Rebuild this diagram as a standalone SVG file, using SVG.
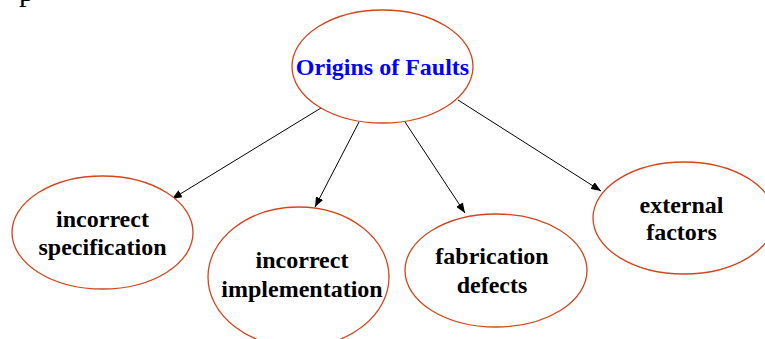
<svg xmlns="http://www.w3.org/2000/svg" width="765" height="339" viewBox="0 0 765 339">
<defs>
<marker id="arr" viewBox="0 0 10 8" refX="10" refY="4" markerWidth="10" markerHeight="8" markerUnits="userSpaceOnUse" orient="auto">
<path d="M0,0 L10,4 L0,8 z" fill="#000"/>
</marker>
<style>
.n{fill:#fff;stroke:#D2461E;stroke-width:1.3}
.t{font-family:"Liberation Serif","Times New Roman",serif;font-weight:bold;font-size:24px;fill:#000;text-anchor:middle}
.c{stroke:#000;stroke-width:1;fill:none;marker-end:url(#arr)}
</style>
</defs>
<rect width="765" height="339" fill="#fff"/>
<text x="19" y="1" style="font-family:'Liberation Serif',serif;font-size:30px;fill:#000">p</text>
<g id="connectors">
<line class="c" x1="321" y1="108" x2="172" y2="199"/>
<line class="c" x1="359" y1="122" x2="315" y2="207"/>
<line class="c" x1="405" y1="122" x2="465" y2="213"/>
<line class="c" x1="458" y1="100" x2="601" y2="191"/>
</g>
<g id="origins">
<ellipse class="n" cx="382.5" cy="66.5" rx="90.5" ry="56.5"/>
<text class="t" x="382.5" y="75" style="fill:#0000FF">Origins of Faults</text>
</g>
<g id="spec">
<ellipse class="n" cx="102.5" cy="232.5" rx="90.5" ry="56.5"/>
<text class="t" x="102.5" y="227">incorrect</text>
<text class="t" x="102.5" y="255">specification</text>
</g>
<g id="impl">
<ellipse class="n" cx="298.5" cy="277" rx="90.5" ry="70"/>
<text class="t" x="302" y="268">incorrect</text>
<text class="t" x="302" y="297">implementation</text>
</g>
<g id="fab">
<ellipse class="n" cx="496" cy="270.5" rx="91" ry="56.5"/>
<text class="t" x="492" y="264">fabrication</text>
<text class="t" x="492" y="293">defects</text>
</g>
<g id="ext">
<ellipse class="n" cx="684" cy="218" rx="91" ry="56"/>
<text class="t" x="681.5" y="213">external</text>
<text class="t" x="681.5" y="240">factors</text>
</g>
</svg>
